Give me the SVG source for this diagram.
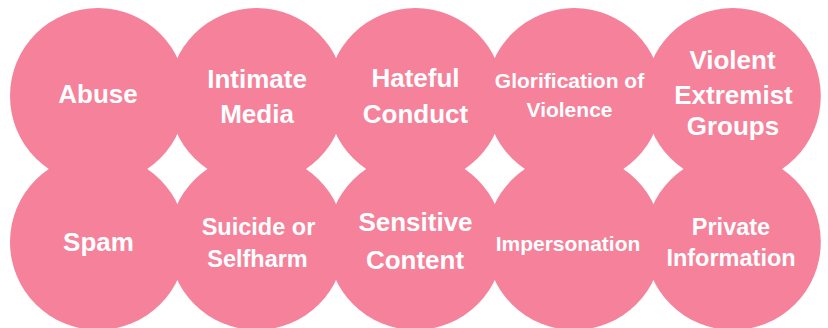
<svg xmlns="http://www.w3.org/2000/svg" width="828" height="328" viewBox="0 0 828 328">
<style>
.c{fill:#F5819A}
.t{fill:#FFFFFF;font-family:"Liberation Sans",Arial,sans-serif;font-weight:bold;text-anchor:middle}
.l{font-size:26px}
.m{font-size:23.5px}
.s{font-size:21px}
</style>
<rect width="828" height="328" fill="#FFFFFF"/>
<g id="connectors"></g>
<g id="abuse"><circle class="c" cx="98" cy="96" r="88"/><text class="t l" x="98" y="103">Abuse</text></g>
<g id="intimate-media"><circle class="c" cx="256.7" cy="96" r="88"/><text class="t l" x="257" y="88">Intimate</text><text class="t l" x="257" y="122.5">Media</text></g>
<g id="hateful-conduct"><circle class="c" cx="415.4" cy="96" r="88"/><text class="t l" x="415.5" y="87">Hateful</text><text class="t l" x="415.5" y="122.5">Conduct</text></g>
<g id="glorification-of-violence"><circle class="c" cx="574.1" cy="96" r="88"/><text class="t s" x="569.5" y="87.5">Glorification of</text><text class="t s" x="569.5" y="116.5">Violence</text></g>
<g id="violent-extremist-groups"><circle class="c" cx="732.8" cy="96" r="88"/><text class="t l" x="732.5" y="68.5">Violent</text><text class="t l" x="733.5" y="103.5">Extremist</text><text class="t l" x="733" y="135">Groups</text></g>
<g id="spam"><circle class="c" cx="98" cy="242" r="88"/><text class="t l" x="98.5" y="251">Spam</text></g>
<g id="suicide-or-selfharm"><circle class="c" cx="256.7" cy="242" r="88"/><text class="t m" x="258.5" y="234.5">Suicide or</text><text class="t m" x="257.5" y="266.5">Selfharm</text></g>
<g id="sensitive-content"><circle class="c" cx="415.4" cy="242" r="88"/><text class="t l" x="415.5" y="230.5">Sensitive</text><text class="t l" x="415" y="269">Content</text></g>
<g id="impersonation"><circle class="c" cx="574.1" cy="242" r="88"/><text class="t s" x="568" y="251">Impersonation</text></g>
<g id="private-information"><circle class="c" cx="732.8" cy="242" r="88"/><text class="t m" x="731" y="234.5">Private</text><text class="t m" x="731" y="266">Information</text></g>
</svg>
